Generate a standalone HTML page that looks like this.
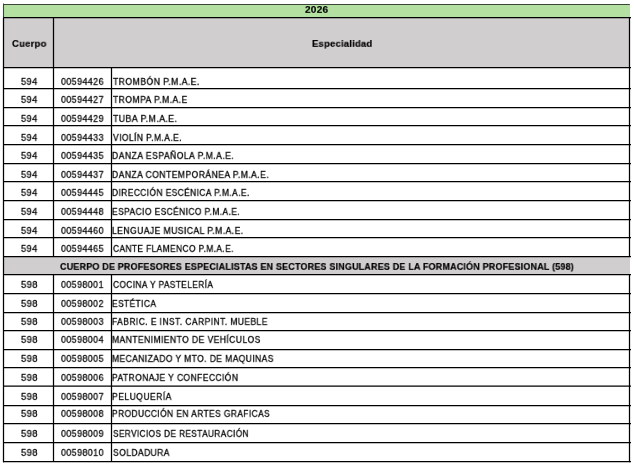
<!DOCTYPE html><html><head><meta charset="utf-8"><style>
html,body{margin:0;padding:0;background:#fff;width:634px;height:467px;overflow:hidden;position:relative}
svg{position:absolute;left:0;top:0}
.t{position:absolute;white-space:nowrap;font-family:"Liberation Sans",sans-serif;font-size:10px;color:#000;transform-origin:0 0;line-height:1;will-change:transform;-webkit-text-stroke:0.3px #000;letter-spacing:0.5px}
.b{font-weight:bold;color:#000;font-size:10px;letter-spacing:0.2px;-webkit-text-stroke:0.2px #000}
</style></head><body>
<svg width="634" height="467" viewBox="0 0 634 467"><rect x="3.5" y="4.5" width="626.5" height="13.0" fill="#b4e1a2"/><rect x="3.5" y="17.5" width="626.0" height="50.0" fill="#d0cece"/><rect x="3.5" y="256.5" width="626.5" height="18.0" fill="#d0cece"/><line x1="3.0" y1="4.5" x2="629.8" y2="4.5" stroke="#3b4537" stroke-width="1.0"/><line x1="3.0" y1="17.5" x2="631.0" y2="17.5" stroke="#000" stroke-width="1.25"/><line x1="3.0" y1="67.5" x2="631.0" y2="67.5" stroke="#000" stroke-width="1.25"/><line x1="3.0" y1="88.5" x2="631.0" y2="88.5" stroke="#000" stroke-width="1.25"/><line x1="3.0" y1="107.5" x2="631.0" y2="107.5" stroke="#000" stroke-width="1.25"/><line x1="3.0" y1="125.5" x2="631.0" y2="125.5" stroke="#000" stroke-width="1.25"/><line x1="3.0" y1="144.5" x2="631.0" y2="144.5" stroke="#000" stroke-width="1.25"/><line x1="3.0" y1="163.5" x2="631.0" y2="163.5" stroke="#000" stroke-width="1.25"/><line x1="3.0" y1="181.5" x2="631.0" y2="181.5" stroke="#000" stroke-width="1.25"/><line x1="3.0" y1="200.5" x2="631.0" y2="200.5" stroke="#000" stroke-width="1.25"/><line x1="3.0" y1="219.5" x2="631.0" y2="219.5" stroke="#000" stroke-width="1.25"/><line x1="3.0" y1="237.5" x2="631.0" y2="237.5" stroke="#000" stroke-width="1.25"/><line x1="3.0" y1="256.5" x2="631.0" y2="256.5" stroke="#000" stroke-width="1.25"/><line x1="3.0" y1="274.5" x2="631.0" y2="274.5" stroke="#000" stroke-width="1.25"/><line x1="3.0" y1="293.5" x2="631.0" y2="293.5" stroke="#000" stroke-width="1.25"/><line x1="3.0" y1="312.5" x2="631.0" y2="312.5" stroke="#000" stroke-width="1.25"/><line x1="3.0" y1="330.5" x2="631.0" y2="330.5" stroke="#000" stroke-width="1.25"/><line x1="3.0" y1="349.5" x2="631.0" y2="349.5" stroke="#000" stroke-width="1.25"/><line x1="3.0" y1="367.5" x2="631.0" y2="367.5" stroke="#000" stroke-width="1.25"/><line x1="3.0" y1="386.1" x2="631.0" y2="386.1" stroke="#000" stroke-width="1.25"/><line x1="3.0" y1="405.5" x2="631.0" y2="405.5" stroke="#000" stroke-width="1.25"/><line x1="3.0" y1="423.5" x2="631.0" y2="423.5" stroke="#000" stroke-width="1.25"/><line x1="3.0" y1="442.5" x2="631.0" y2="442.5" stroke="#000" stroke-width="1.25"/><line x1="3.0" y1="461.5" x2="631.0" y2="461.5" stroke="#000" stroke-width="1.25"/><line x1="3.5" y1="3.5" x2="3.5" y2="17.5" stroke="#3b4537" stroke-width="1.1"/><line x1="3.5" y1="17.5" x2="3.5" y2="462.2" stroke="#000" stroke-width="1.25"/><line x1="629.5" y1="17.5" x2="629.5" y2="256.5" stroke="#000" stroke-width="1.25"/><line x1="629.5" y1="274.5" x2="629.5" y2="462.2" stroke="#000" stroke-width="1.25"/><line x1="53.5" y1="17.5" x2="53.5" y2="256.5" stroke="#000" stroke-width="1.25"/><line x1="53.5" y1="274.5" x2="53.5" y2="461.5" stroke="#000" stroke-width="1.25"/><line x1="111.5" y1="67.5" x2="111.5" y2="256.5" stroke="#000" stroke-width="1.25"/><line x1="111.5" y1="274.5" x2="111.5" y2="461.5" stroke="#000" stroke-width="1.25"/></svg>
<div class="t b" style="left:305.30px;top:5.88px;transform:scale(1.0091,0.8500)">2026</div>
<div class="t b" style="left:11.91px;top:39.90px;transform:scale(0.9535,0.8500)">Cuerpo</div>
<div class="t b" style="left:312.09px;top:39.78px;transform:scale(0.9498,0.8500)">Especialidad</div>
<div class="t" style="left:20.75px;top:77.60px;transform:scale(0.9193,0.8500)">594</div>
<div class="t" style="left:60.85px;top:77.60px;transform:scale(0.8851,0.8500)">00594426</div>
<div class="t" style="left:112.94px;top:77.60px;transform:scale(0.8672,0.8500)">TROMBÓN P.M.A.E.</div>
<div class="t" style="left:20.75px;top:96.10px;transform:scale(0.9193,0.8500)">594</div>
<div class="t" style="left:60.85px;top:96.10px;transform:scale(0.8851,0.8500)">00594427</div>
<div class="t" style="left:112.94px;top:96.10px;transform:scale(0.8615,0.8500)">TROMPA P.M.A.E</div>
<div class="t" style="left:20.75px;top:115.10px;transform:scale(0.9193,0.8500)">594</div>
<div class="t" style="left:60.85px;top:115.10px;transform:scale(0.8851,0.8500)">00594429</div>
<div class="t" style="left:113.03px;top:115.10px;transform:scale(0.8766,0.8500)">TUBA P.M.A.E.</div>
<div class="t" style="left:20.75px;top:133.60px;transform:scale(0.9193,0.8500)">594</div>
<div class="t" style="left:60.85px;top:133.60px;transform:scale(0.8851,0.8500)">00594433</div>
<div class="t" style="left:112.78px;top:133.60px;transform:scale(0.8497,0.8500)">VIOLÍN P.M.A.E.</div>
<div class="t" style="left:20.75px;top:152.10px;transform:scale(0.9193,0.8500)">594</div>
<div class="t" style="left:60.85px;top:152.10px;transform:scale(0.8851,0.8500)">00594435</div>
<div class="t" style="left:111.94px;top:152.10px;transform:scale(0.8655,0.8500)">DANZA ESPAÑOLA P.M.A.E.</div>
<div class="t" style="left:20.75px;top:170.60px;transform:scale(0.9193,0.8500)">594</div>
<div class="t" style="left:60.85px;top:170.60px;transform:scale(0.8851,0.8500)">00594437</div>
<div class="t" style="left:112.00px;top:170.60px;transform:scale(0.8597,0.8500)">DANZA CONTEMPORÁNEA P.M.A.E.</div>
<div class="t" style="left:20.75px;top:189.10px;transform:scale(0.9193,0.8500)">594</div>
<div class="t" style="left:60.85px;top:189.10px;transform:scale(0.8851,0.8500)">00594445</div>
<div class="t" style="left:111.96px;top:189.10px;transform:scale(0.8397,0.8500)">DIRECCIÓN ESCÉNICA P.M.A.E.</div>
<div class="t" style="left:20.75px;top:208.10px;transform:scale(0.9193,0.8500)">594</div>
<div class="t" style="left:60.85px;top:208.10px;transform:scale(0.8851,0.8500)">00594448</div>
<div class="t" style="left:112.03px;top:208.10px;transform:scale(0.8418,0.8500)">ESPACIO ESCÉNICO P.M.A.E.</div>
<div class="t" style="left:20.75px;top:227.10px;transform:scale(0.9193,0.8500)">594</div>
<div class="t" style="left:60.85px;top:227.10px;transform:scale(0.8851,0.8500)">00594460</div>
<div class="t" style="left:112.00px;top:227.10px;transform:scale(0.8591,0.8500)">LENGUAJE MUSICAL P.M.A.E.</div>
<div class="t" style="left:20.75px;top:245.10px;transform:scale(0.9193,0.8500)">594</div>
<div class="t" style="left:60.85px;top:245.10px;transform:scale(0.8851,0.8500)">00594465</div>
<div class="t" style="left:113.02px;top:245.10px;transform:scale(0.8352,0.8500)">CANTE FLAMENCO P.M.A.E.</div>
<div class="t b" style="left:59.79px;top:262.70px;transform:scale(0.8988,0.8500)">CUERPO DE PROFESORES ESPECIALISTAS EN SECTORES SINGULARES DE LA FORMACIÓN PROFESIONAL (598)</div>
<div class="t" style="left:20.83px;top:281.10px;transform:scale(0.9393,0.8500)">598</div>
<div class="t" style="left:60.85px;top:281.10px;transform:scale(0.8830,0.8500)">00598001</div>
<div class="t" style="left:112.96px;top:281.10px;transform:scale(0.8313,0.8500)">COCINA Y PASTELERÍA</div>
<div class="t" style="left:20.83px;top:299.60px;transform:scale(0.9393,0.8500)">598</div>
<div class="t" style="left:60.85px;top:299.60px;transform:scale(0.8830,0.8500)">00598002</div>
<div class="t" style="left:112.01px;top:299.60px;transform:scale(0.8385,0.8500)">ESTÉTICA</div>
<div class="t" style="left:20.83px;top:317.82px;transform:scale(0.9393,0.8500)">598</div>
<div class="t" style="left:60.85px;top:317.82px;transform:scale(0.8851,0.8500)">00598003</div>
<div class="t" style="left:112.01px;top:317.82px;transform:scale(0.8497,0.8500)">FABRIC. E INST. CARPINT. MUEBLE</div>
<div class="t" style="left:20.83px;top:336.10px;transform:scale(0.9393,0.8500)">598</div>
<div class="t" style="left:60.85px;top:336.10px;transform:scale(0.8851,0.8500)">00598004</div>
<div class="t" style="left:111.95px;top:336.10px;transform:scale(0.8551,0.8500)">MANTENIMIENTO DE VEHÍCULOS</div>
<div class="t" style="left:20.83px;top:355.10px;transform:scale(0.9393,0.8500)">598</div>
<div class="t" style="left:60.85px;top:355.10px;transform:scale(0.8851,0.8500)">00598005</div>
<div class="t" style="left:112.01px;top:355.10px;transform:scale(0.8489,0.8500)">MECANIZADO Y MTO. DE MAQUINAS</div>
<div class="t" style="left:20.83px;top:373.60px;transform:scale(0.9393,0.8500)">598</div>
<div class="t" style="left:60.85px;top:373.60px;transform:scale(0.8851,0.8500)">00598006</div>
<div class="t" style="left:112.01px;top:373.60px;transform:scale(0.8503,0.8500)">PATRONAJE Y CONFECCIÓN</div>
<div class="t" style="left:20.83px;top:393.10px;transform:scale(0.9393,0.8500)">598</div>
<div class="t" style="left:60.85px;top:393.10px;transform:scale(0.8851,0.8500)">00598007</div>
<div class="t" style="left:111.86px;top:393.10px;transform:scale(0.8615,0.8500)">PELUQUERÍA</div>
<div class="t" style="left:20.83px;top:410.10px;transform:scale(0.9393,0.8500)">598</div>
<div class="t" style="left:60.85px;top:410.10px;transform:scale(0.8851,0.8500)">00598008</div>
<div class="t" style="left:112.02px;top:410.10px;transform:scale(0.8399,0.8500)">PRODUCCIÓN EN ARTES GRAFICAS</div>
<div class="t" style="left:20.83px;top:430.10px;transform:scale(0.9393,0.8500)">598</div>
<div class="t" style="left:60.85px;top:430.10px;transform:scale(0.8851,0.8500)">00598009</div>
<div class="t" style="left:112.95px;top:430.10px;transform:scale(0.8239,0.8500)">SERVICIOS DE RESTAURACIÓN</div>
<div class="t" style="left:20.83px;top:449.10px;transform:scale(0.9393,0.8500)">598</div>
<div class="t" style="left:60.85px;top:449.10px;transform:scale(0.8851,0.8500)">00598010</div>
<div class="t" style="left:112.59px;top:449.10px;transform:scale(0.8527,0.8500)">SOLDADURA</div>
</body></html>
